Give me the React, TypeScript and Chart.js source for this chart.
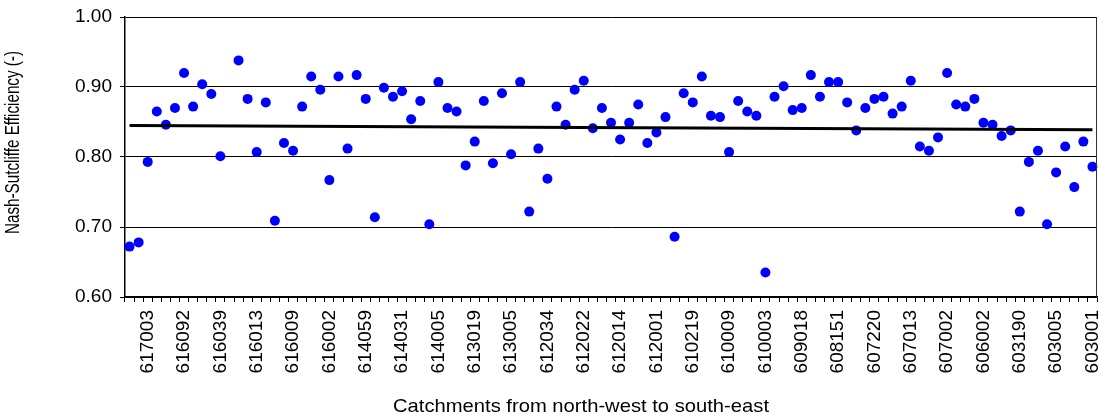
import React, { useEffect, useRef } from 'react';
import { Chart, registerables } from 'chart.js';

Chart.register(...registerables);

// Labelled catchments (every 4th category, starting with the 3rd)
const catchmentLabels = [
  '617003', '616092', '616039', '616013', '616009', '616002', '614059',
  '614031', '614005', '613019', '613005', '612034', '612022', '612014',
  '612001', '610219', '610009', '610003', '609018', '608151', '607220',
  '607013', '607002', '606002', '603190', '603005', '603001',
];

// Nash-Sutcliffe efficiency per catchment, north-west to south-east
const nseValues: (number | null)[] = [
  0.672, 0.678, 0.793, 0.865, 0.846, 0.870, 0.920, 0.872, 0.904, 0.890,
  0.801, null, 0.938, 0.883, 0.807, 0.878, 0.709, 0.820, 0.809, 0.872,
  0.915, 0.896, 0.767, 0.915, 0.812, 0.917, 0.883, 0.714, 0.899, 0.886,
  0.894, 0.854, 0.880, 0.704, 0.907, 0.870, 0.865, 0.788, 0.822, 0.880,
  0.791, 0.891, 0.804, 0.907, 0.722, 0.812, 0.769, 0.872, 0.846, 0.896,
  0.909, 0.841, 0.870, 0.849, 0.825, 0.849, 0.875, 0.820, 0.835, 0.857,
  0.686, 0.891, 0.878, 0.915, 0.859, 0.857, 0.807, 0.880, 0.865, 0.859,
  0.635, 0.886, 0.901, 0.867, 0.870, 0.917, 0.886, 0.907, 0.907, 0.878,
  0.838, 0.870, 0.883, 0.886, 0.862, 0.872, 0.909, 0.815, 0.809, 0.828,
  0.920, 0.875, 0.872, 0.883, 0.849, 0.846, 0.830, 0.838, 0.722, 0.793,
  0.809, 0.704, 0.778, 0.815, 0.757, 0.822, 0.786,
];

// Linear trend line values at the first and last catchment
const trendEnds = [0.845, 0.839];

const yTicks = [0.6, 0.7, 0.8, 0.9, 1.0];

const FONT = "'Liberation Sans', Arial, Helvetica, sans-serif";

function drawFitted(ctx: CanvasRenderingContext2D, text: string, len: number) {
  const w = ctx.measureText(text).width;
  ctx.save();
  ctx.scale(len / w, 1);
  ctx.fillText(text, 0, 0);
  ctx.restore();
}

export default function App() {
  const ref = useRef<HTMLCanvasElement>(null);

  useEffect(() => {
    if (!ref.current) return;
    const n = nseValues.length;
    const categories = nseValues.map((_, i) =>
      i % 4 === 2 ? catchmentLabels[(i - 2) / 4] : ''
    );
    const trend = nseValues.map((_, i) =>
      i === 0 ? trendEnds[0] : i === n - 1 ? trendEnds[1] : null
    );

    const decor = {
      id: 'decor',
      afterDraw(chart: any) {
        const { ctx, chartArea } = chart;
        ctx.save();
        // right border of the plot area
        ctx.strokeStyle = '#333';
        ctx.lineWidth = 1;
        ctx.beginPath();
        ctx.moveTo(chartArea.right - 0.5, chartArea.top);
        ctx.lineTo(chartArea.right - 0.5, chartArea.bottom);
        ctx.stroke();
        // axis titles
        ctx.fillStyle = '#000';
        ctx.textAlign = 'center';
        ctx.textBaseline = 'alphabetic';
        ctx.font = `19px ${FONT}`;
        ctx.save();
        ctx.translate(581, 411.5);
        drawFitted(ctx, 'Catchments from north-west to south-east', 376);
        ctx.restore();
        ctx.save();
        ctx.translate(19, 142.5);
        ctx.rotate(-Math.PI / 2);
        ctx.font = `20px ${FONT}`;
        drawFitted(ctx, 'Nash-Sutcliffe Efficiency (-)', 183);
        ctx.restore();
        ctx.restore();
      },
    };

    const chart = new Chart(ref.current, {
      type: 'line',
      data: {
        labels: categories,
        datasets: [
          {
            label: 'Trend',
            data: trend,
            spanGaps: true,
            borderColor: '#000',
            borderWidth: 3,
            pointRadius: 0,
            pointHoverRadius: 0,
            fill: false,
            order: 0,
          },
          {
            label: 'NSE',
            data: nseValues,
            showLine: false,
            pointRadius: 5,
            pointHoverRadius: 5,
            pointBorderWidth: 0,
            pointBackgroundColor: '#0000ff',
            backgroundColor: '#0000ff',
            borderColor: '#0000ff',
            order: 1,
          },
        ],
      },
      options: {
        animation: false,
        responsive: false,
        devicePixelRatio: 1,
        layout: { padding: { top: 17, right: 10, left: 0, bottom: 0 } },
        plugins: {
          legend: { display: false },
          tooltip: { enabled: false },
          title: { display: false },
        },
        scales: {
          x: {
            type: 'category',
            offset: true,
            grid: {
              offset: true,
              drawOnChartArea: false,
              drawTicks: true,
              tickLength: 5,
              color: '#000',
              lineWidth: 1,
            },
            border: { color: '#000', width: 1.5 },
            ticks: {
              autoSkip: false,
              maxRotation: 90,
              minRotation: 90,
              padding: 8,
              color: '#000',
              font: { family: FONT, size: 19 },
            },
            afterFit: (s: any) => {
              s.height = 120;
              s.paddingLeft = 0;
              s.paddingRight = 0;
            },
          },
          y: {
            min: 0.6,
            max: 1.0,
            afterBuildTicks: (s: any) => {
              s.ticks = yTicks.map((v) => ({ value: v }));
            },
            ticks: {
              callback: (v: any) => Number(v).toFixed(2),
              padding: 8,
              color: '#000',
              font: { family: FONT, size: 19 },
            },
            grid: { color: '#000', lineWidth: 1, tickLength: 5 },
            border: { color: '#000', width: 1.5 },
            afterFit: (s: any) => {
              s.width = 125;
              s.paddingTop = 0;
              s.paddingBottom = 0;
            },
          },
        },
      },
      plugins: [decor],
    } as any);

    return () => chart.destroy();
  }, []);

  return (
    <div style={{ position: 'fixed', left: 0, top: 0, width: 1107, height: 417, background: '#fff' }}>
      <canvas ref={ref} width={1107} height={417} style={{ display: 'block' }} />
    </div>
  );
}
